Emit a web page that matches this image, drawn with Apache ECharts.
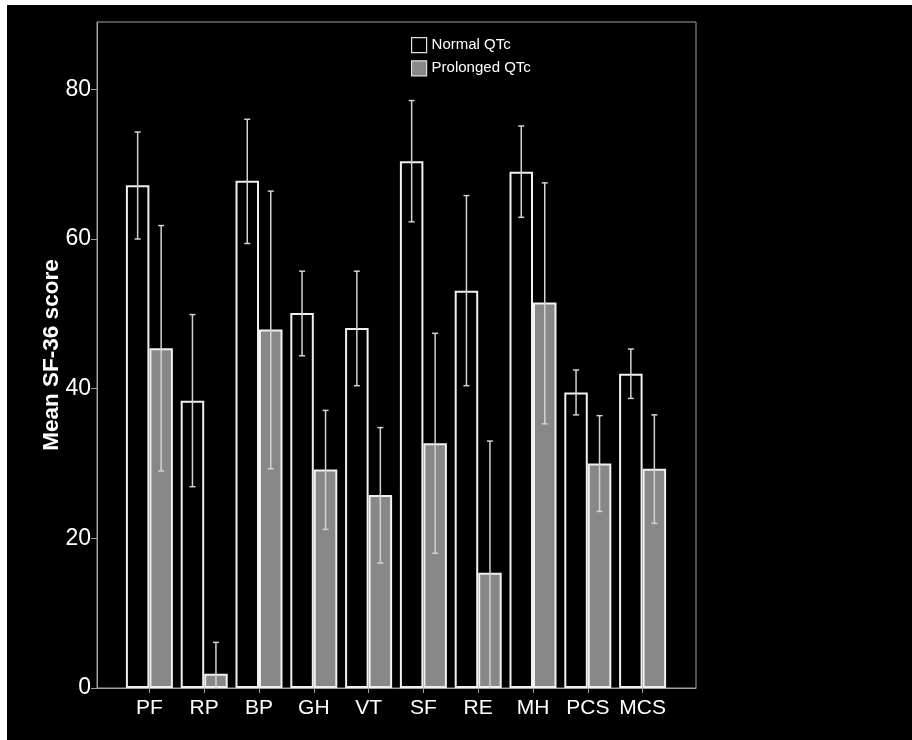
<!DOCTYPE html>
<html>
<head>
<meta charset="utf-8">
<script src="https://cdn.jsdelivr.net/npm/echarts@6/dist/echarts.min.js"></script>
<style>
  html, body { margin: 0; padding: 0; background: #ffffff; }
  #chart { position: absolute; left: 7px; top: 5px; width: 905px; height: 735px; background: #000000; }
</style>
</head>
<body>
<div id="chart"></div>
<script>
// SF-36 domain scores by QTc group (means with error bars)
const categories = ['PF', 'RP', 'BP', 'GH', 'VT', 'SF', 'RE', 'MH', 'PCS', 'MCS'];
const seriesNames = ['Normal QTc', 'Prolonged QTc'];

const normalMean = [67.2, 38.4, 67.8, 50.1, 48.1, 70.4, 53.1, 69.0, 39.5, 42.0];
const normalHigh = [74.3, 49.9, 76.0, 55.7, 55.7, 78.5, 65.8, 75.1, 42.5, 45.3];
const normalLow  = [60.0, 26.9, 59.4, 44.4, 40.4, 62.3, 40.4, 62.9, 36.5, 38.7];

const prolongedMean = [45.4, 1.9, 47.9, 29.2, 25.8, 32.7, 15.4, 51.5, 30.0, 29.3];
const prolongedHigh = [61.8, 6.1, 66.4, 37.1, 34.8, 47.4, 33.0, 67.5, 36.4, 36.5];
const prolongedLow  = [29.0, -2.3, 29.3, 21.2, 16.7, 18.0, -2.3, 35.3, 23.6, 22.0];

const yTicks = [0, 20, 40, 60, 80];

const BAR_W = 23.5;
const FONT = '"Liberation Sans", Arial, sans-serif';

function errorSeries(name, high, low, shift) {
  return {
    type: 'custom',
    name: name,
    xAxisIndex: 1,
    yAxisIndex: 1,
    clip: true,
    z: 5,
    silent: true,
    data: categories.map((c, i) => [i, low[i], high[i]]),
    renderItem: function (params, api) {
      const idx = api.value(0);
      const top = api.coord([idx, api.value(2)]);
      const bot = api.coord([idx, api.value(1)]);
      const x = top[0] + shift;
      const cap = 3;
      const style = { stroke: '#d2d2d2', lineWidth: 1.5 };
      return {
        type: 'group',
        children: [
          { type: 'line', shape: { x1: x, y1: top[1], x2: x, y2: bot[1] }, style: style },
          { type: 'line', shape: { x1: x - cap, y1: top[1], x2: x + cap, y2: top[1] }, style: style },
          { type: 'line', shape: { x1: x - cap, y1: bot[1], x2: x + cap, y2: bot[1] }, style: style }
        ]
      };
    }
  };
}

const chart = echarts.init(document.getElementById('chart'), null, { renderer: 'canvas' });

const option = {
  backgroundColor: '#000000',
  animation: false,
  textStyle: { fontFamily: FONT },
  legend: {
    left: 399,
    top: 27,
    orient: 'vertical',
    itemWidth: 15,
    itemHeight: 15,
    itemGap: 7,
    icon: 'rect',
    textStyle: { color: '#ffffff', fontSize: 15, fontFamily: FONT },
    data: [
      { name: seriesNames[0], itemStyle: { color: '#000000', borderColor: '#e0e0e0', borderWidth: 1.2 } },
      { name: seriesNames[1], itemStyle: { color: '#888888', borderColor: '#e0e0e0', borderWidth: 1.2 } }
    ]
  },
  grid: [
    { left: 90, top: 17, width: 599, height: 666, show: true, borderColor: '#a0a0a0', borderWidth: 1, backgroundColor: 'transparent' },
    { left: 115, top: 17, width: 548, height: 666 }
  ],
  xAxis: [
    {
      gridIndex: 0, type: 'value', min: 0, max: 1,
      axisLine: { show: true, lineStyle: { color: '#a0a0a0', width: 1 } },
      axisTick: { show: false }, axisLabel: { show: false }, splitLine: { show: false }
    },
    {
      gridIndex: 1, type: 'category', data: categories,
      axisLine: { show: false },
      axisTick: { show: true, alignWithLabel: true, interval: 0, length: 5, lineStyle: { color: '#a0a0a0' } },
      axisLabel: { color: '#ffffff', fontSize: 21, margin: 10, interval: 0, fontFamily: FONT }
    }
  ],
  yAxis: [
    {
      gridIndex: 0, type: 'value', min: 0, max: 89, interval: 20,
      name: 'Mean SF-36 score',
      nameLocation: 'middle',
      nameGap: 34,
      nameMoveOverlap: false,
      nameRotate: 90,
      nameTextStyle: { color: '#ffffff', fontSize: 22.5, fontWeight: 'bold', fontFamily: FONT },
      axisLine: { show: true, lineStyle: { color: '#a0a0a0', width: 1 } },
      axisTick: { show: true, length: 6, lineStyle: { color: '#a0a0a0' } },
      axisLabel: {
        color: '#ffffff', fontSize: 23, margin: 6, fontFamily: FONT,
        showMaxLabel: false,
        formatter: function (v) { return yTicks.indexOf(v) >= 0 ? String(v) : ''; }
      },
      splitLine: { show: false }
    },
    {
      gridIndex: 1, type: 'value', min: 0, max: 89,
      show: false, splitLine: { show: false }
    }
  ],
  series: [
    {
      name: seriesNames[0], type: 'bar', xAxisIndex: 1, yAxisIndex: 1,
      data: normalMean, barWidth: BAR_W, barGap: '0%',
      itemStyle: { color: '#000000', borderColor: '#f0f0f0', borderWidth: 2 }
    },
    {
      name: seriesNames[1], type: 'bar', xAxisIndex: 1, yAxisIndex: 1,
      data: prolongedMean, barWidth: BAR_W, barGap: '0%',
      itemStyle: { color: '#888888', borderColor: '#f0f0f0', borderWidth: 2 }
    },
    errorSeries('normalErr', normalHigh, normalLow, -BAR_W / 2),
    errorSeries('prolongedErr', prolongedHigh, prolongedLow, BAR_W / 2)
  ]
};

chart.setOption(option);
</script>
</body>
</html>
